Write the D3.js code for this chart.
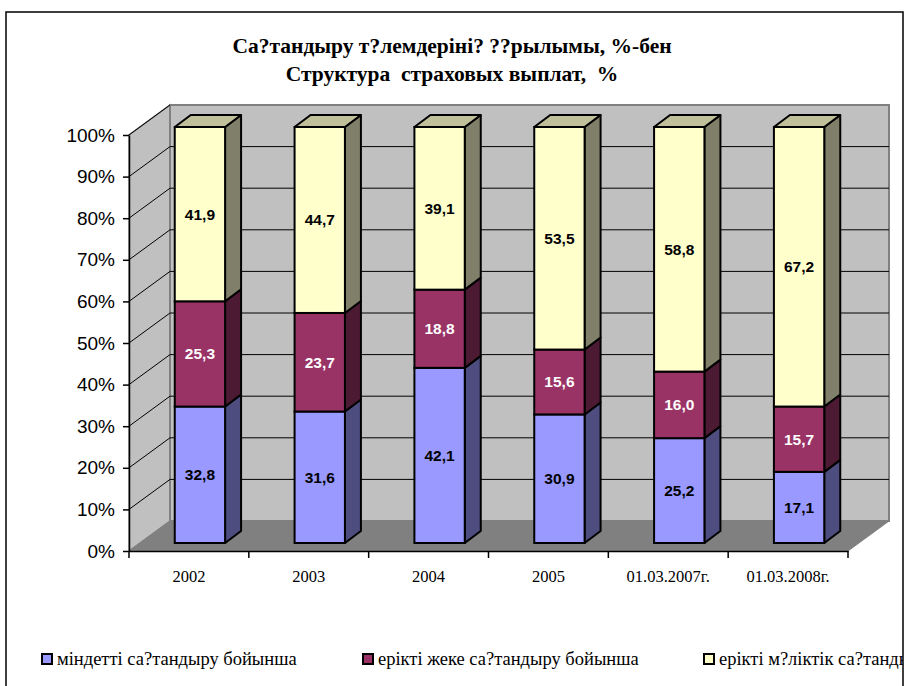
<!DOCTYPE html>
<html>
<head>
<meta charset="utf-8">
<script src="https://cdn.jsdelivr.net/npm/d3@7"></script>
<style>
  body { margin: 0; background: #fff; }
  .serif { font-family: "Liberation Serif", "Times New Roman", "DejaVu Serif", serif; }
</style>
</head>
<body>
<div id="chart"></div>
<script>

// data
let categories = ["2002", "2003", "2004", "2005", "01.03.2007г.", "01.03.2008г."];
let seriesNames = ["міндетті са?тандыру бойынша", "ерікті жеке са?тандыру бойынша", "ерікті м?ліктік са?тандыру"];
let mandatory = [32.8, 31.6, 42.1, 30.9, 25.2, 17.1];
let voluntaryPersonal = [25.3, 23.7, 18.8, 15.6, 16.0, 15.7];
let voluntaryProperty = [41.9, 44.7, 39.1, 53.5, 58.8, 67.2];
let yTicks = [0, 10, 20, 30, 40, 50, 60, 70, 80, 90, 100];
let titleLines = ["Са?тандыру т?лемдеріні? ??рылымы, %-бен", "Структура  страховых выплат,  %"];

let width = 910,
    height = 686;

let front = ["#9999FF", "#993366", "#FFFFCC"];
let side = ["#4D4D80", "#4D1A33", "#80806A"];
let topColor = ["#CCCCFF", "#CC99B2", "#C0C09A"];
let labelColor = ["#000", "#fff", "#000"];

// 3d offsets
let back = { dx: 41, dy: -30 };      // depth of the walls
let barOff = { dx: 11, dy: -8 };     // where the bar front sits
let barDepth = { dx: 16, dy: -12 };

let svg = d3.select("#chart")
    .append("svg")
    .attr("width", width)
    .attr("height", height)
    .style("font-family", "'Liberation Sans', Arial, sans-serif");

svg.append("clipPath").attr("id", "frame")
    .append("rect").attr("x", 6).attr("y", 12).attr("width", 897).attr("height", 700);

let g = svg.append("g").attr("clip-path", "url(#frame)");

let x = d3.scaleBand()
    .domain(categories)
    .range([129, 848]);

let y = d3.scaleLinear()
    .domain([0, 100])
    .range([551, 135]);

let table = categories.map((c, i) => ({
    cat: c, s0: mandatory[i], s1: voluntaryPersonal[i], s2: voluntaryProperty[i]
}));
let stacked = d3.stack().keys(["s0", "s1", "s2"])(table);

let pts = p => p.map(d => d.join(",")).join(" ");

// side wall
g.append("polygon")
    .attr("points", pts([[x.range()[0], y(0)], [x.range()[0], y(100)],
        [x.range()[0] + back.dx, y(100) + back.dy], [x.range()[0] + back.dx, y(0) + back.dy]]))
    .attr("fill", "#C0C0C0").attr("stroke", "#808080").attr("stroke-width", 1.5);

// back wall
g.append("polygon")
    .attr("points", pts([[x.range()[0] + back.dx, y(100) + back.dy], [x.range()[1] + back.dx, y(100) + back.dy],
        [x.range()[1] + back.dx, y(0) + back.dy], [x.range()[0] + back.dx, y(0) + back.dy]]))
    .attr("fill", "#C0C0C0").attr("stroke", "#808080").attr("stroke-width", 2);

// floor
g.append("polygon")
    .attr("points", pts([[x.range()[0], y(0)], [x.range()[1], y(0)],
        [x.range()[1] + back.dx, y(0) + back.dy], [x.range()[0] + back.dx, y(0) + back.dy]]))
    .attr("fill", "#808080").attr("stroke", "#808080");

// gridlines
let grid = g.append("g").attr("stroke", "#000").attr("stroke-width", 1);
grid.selectAll(".diag").data(yTicks.slice(1)).enter()
    .append("line")
    .attr("x1", x.range()[0]).attr("y1", d => y(d))
    .attr("x2", x.range()[0] + back.dx).attr("y2", d => y(d) + back.dy);
grid.selectAll(".hor").data(yTicks.slice(1, -1)).enter()
    .append("line")
    .attr("x1", x.range()[0] + back.dx).attr("y1", d => y(d) + back.dy)
    .attr("x2", x.range()[1] + back.dx).attr("y2", d => y(d) + back.dy);

// bars
let barW = x.bandwidth() * 0.42;
let bars = g.selectAll(".bar").data(categories).enter()
    .append("g").attr("class", "bar");

bars.each(function (c, i) {
    let bg = d3.select(this);
    let x0 = x(c) + x.bandwidth() / 2 + barOff.dx - barW / 2;
    let x1 = x0 + barW;
    stacked.forEach((s, k) => {
        let yb = y(s[i][0]) + barOff.dy;
        let yt = y(s[i][1]) + barOff.dy;
        bg.append("polygon")
            .attr("points", pts([[x1, yb], [x1 + barDepth.dx, yb + barDepth.dy],
                [x1 + barDepth.dx, yt + barDepth.dy], [x1, yt]]))
            .attr("fill", side[k]).attr("stroke", "#000").attr("stroke-width", 2)
            .attr("stroke-linejoin", "round");
        bg.append("rect")
            .attr("x", x0).attr("y", yt)
            .attr("width", barW).attr("height", yb - yt)
            .attr("fill", front[k]).attr("stroke", "#000").attr("stroke-width", 2);
        if (k == stacked.length - 1) {
            bg.append("polygon")
                .attr("points", pts([[x0, yt], [x1, yt], [x1 + barDepth.dx, yt + barDepth.dy],
                    [x0 + barDepth.dx, yt + barDepth.dy]]))
                .attr("fill", topColor[k]).attr("stroke", "#000").attr("stroke-width", 2)
                .attr("stroke-linejoin", "round");
        }
        bg.append("text")
            .attr("x", (x0 + x1) / 2)
            .attr("y", (yb + yt) / 2)
            .attr("dy", "0.35em")
            .attr("text-anchor", "middle")
            .style("font-size", "15.5px")
            .style("font-weight", "bold")
            .attr("fill", labelColor[k])
            .text(d3.format(".1f")(s[i][1] - s[i][0]).replace(".", ","));
    });
});

// y axis
let yAxis = g.append("g")
    .attr("transform", `translate(${x.range()[0]}, 0)`)
    .call(d3.axisLeft(y).tickValues(yTicks).tickFormat(d => d + "%").tickSize(6).tickSizeOuter(0).tickPadding(8));
yAxis.attr("font-family", null).attr("font-size", null);
yAxis.selectAll("text").style("font-size", "19px").attr("fill", "#000");
yAxis.selectAll("line, path").attr("stroke", "#000").attr("stroke-width", 1.5);

// x axis
let xAxis = g.append("g")
    .attr("transform", `translate(0, ${y(0)})`)
    .call(d3.axisBottom(x).tickSize(0).tickSizeOuter(0).tickPadding(19));
xAxis.attr("font-family", null).attr("font-size", null);
xAxis.selectAll("text").attr("class", "serif").style("font-size", "16.5px").attr("fill", "#000");
xAxis.select("path").attr("stroke", "#000").attr("stroke-width", 1.5);
xAxis.selectAll(".bound").data(categories.concat(["end"])).enter()
    .append("line")
    .attr("x1", d => d == "end" ? x.range()[1] : x(d))
    .attr("x2", d => d == "end" ? x.range()[1] : x(d))
    .attr("y1", 0).attr("y2", 7)
    .attr("stroke", "#000").attr("stroke-width", 1.5);

// title
g.selectAll(".title").data(titleLines).enter()
    .append("text")
    .attr("class", "serif")
    .attr("x", 452)
    .attr("y", (d, i) => 53 + i * 28)
    .attr("text-anchor", "middle")
    .style("font-weight", "bold")
    .style("font-size", "21.5px")
    .style("white-space", "pre")
    .text(d => d);

// legend
let legendX = [41, 362, 703];
let legend = g.selectAll(".leg").data(seriesNames).enter()
    .append("g")
    .attr("transform", (d, i) => `translate(${legendX[i]}, 659)`);
legend.append("rect")
    .attr("x", 1).attr("y", -5).attr("width", 10).attr("height", 10)
    .attr("fill", (d, i) => front[i]).attr("stroke", "#000").attr("stroke-width", 2);
legend.append("text")
    .attr("class", "serif")
    .attr("x", 16).attr("dy", "0.35em")
    .style("font-size", "18.5px")
    .text(d => d);

// frame
svg.append("rect")
    .attr("x", 6).attr("y", 12).attr("width", 897).attr("height", 700)
    .attr("fill", "none").attr("stroke", "#000").attr("stroke-width", 1.5);

</script>
</body>
</html>
